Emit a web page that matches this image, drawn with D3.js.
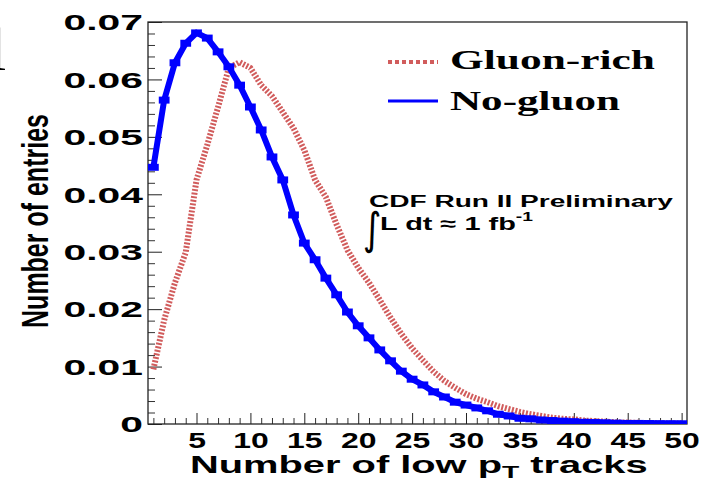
<!DOCTYPE html>
<html>
<head>
<meta charset="utf-8">
<script src="https://cdn.jsdelivr.net/npm/d3@7"></script>
<style>
  body { margin: 0; background: #fff; }
  svg { display: block; }
</style>
</head>
<body>
<script>
// bins of the "number of low pT tracks" histogram (bin centres)
const bins = [1,2,3,4,5,6,7,8,9,10,11,12,13,14,15,16,17,18,19,20,
  21,22,23,24,25,26,27,28,29,30,31,32,33,34,35,36,37,38,39,40,
  41,42,43,44,45,46,47,48,49,50];

// Gluon-rich (red dotted)
const gluonRich = [0.0095,0.0181,0.0246,0.0299,0.0425,0.0486,0.0552,0.0620,0.0630,0.0620,
  0.0590,0.0571,0.0543,0.0515,0.0477,0.0425,0.0395,0.0347,0.0303,0.0272,
  0.0246,0.0216,0.0185,0.0157,0.0132,0.0111,0.0091,0.0075,0.0063,0.0052,
  0.0044,0.0038,0.0031,0.0026,0.0021,0.0017,0.0014,0.0011,0.0009,0.0008,
  0.0006,0.0005,0.0004,0.0003,0.00025,0.0002,0.00015,0.0001,0.0001,0.0001];

// No-gluon (blue solid)
const noGluon = [0.0447,0.0564,0.0629,0.0663,0.0681,0.0672,0.0648,0.0622,0.0590,0.0552,
  0.0512,0.0465,0.0425,0.0364,0.0315,0.0286,0.0254,0.0225,0.0195,0.0171,
  0.0150,0.0129,0.0110,0.0092,0.0078,0.0068,0.0056,0.0047,0.0038,0.0033,
  0.0028,0.0023,0.0017,0.0014,0.0010,0.0009,0.0007,0.0006,0.0005,0.0004,
  0.0003,0.00025,0.0002,0.00015,0.0001,0.0001,0.00008,0.00006,0.00005,0.00004];

const xTicks = [5,10,15,20,25,30,35,40,45,50];
const yTicks = [0,0.01,0.02,0.03,0.04,0.05,0.06,0.07];
const seriesNames = ["Gluon-rich", "No-gluon"];

const W = 708, H = 482;
const m = {left: 148, right: 687, top: 22, bottom: 424};

const x = d3.scaleLinear().domain([0.5, 50.5]).range([m.left, m.right]);
const y = d3.scaleLinear().domain([0, 0.07]).range([m.bottom, m.top]);

const svg = d3.select("body").append("svg")
  .attr("width", W)
  .attr("height", H);

// scale a text element horizontally so it is `target` px wide
function fit(sel, tx, ty, target) {
  const w = sel.node().getComputedTextLength();
  sel.attr("transform", "translate(" + tx + "," + ty + ") scale(" + (target / w) + ",1)");
  return sel;
}

svg.append("clipPath").attr("id", "frame")
  .append("rect")
  .attr("x", m.left).attr("y", m.top)
  .attr("width", m.right - m.left).attr("height", m.bottom - m.top);

// minor ticks
const xMinor = d3.range(1, 51).filter(d => d % 5 != 0);
const yMinor = d3.range(0, 0.0701, 0.002).filter(d => Math.abs(d * 100 - Math.round(d * 100)) > 1e-6);

svg.append("g")
  .attr("transform", "translate(0," + m.bottom + ")")
  .call(d3.axisBottom(x).tickValues(xMinor).tickSizeInner(-6).tickSizeOuter(0).tickFormat(""))
  .call(g => g.select(".domain").remove())
  .call(g => g.selectAll("line").attr("stroke", "#333"));

svg.append("g")
  .attr("transform", "translate(" + m.left + ",0)")
  .call(d3.axisLeft(y).tickValues(yMinor).tickSizeInner(-7).tickSizeOuter(0).tickFormat(""))
  .call(g => g.select(".domain").remove())
  .call(g => g.selectAll("line").attr("stroke", "#333"));

// major ticks + labels
const xAxis = svg.append("g")
  .attr("transform", "translate(0," + m.bottom + ")")
  .call(d3.axisBottom(x).tickValues(xTicks).tickSizeInner(-11).tickSizeOuter(0).tickPadding(0))
  .call(g => g.select(".domain").remove())
  .call(g => g.selectAll("line").attr("stroke", "#222"));

xAxis.selectAll("text")
  .attr("y", 0).attr("dy", null)
  .attr("transform", "translate(0,24) scale(1.45,1)")
  .attr("fill", "#000")
  .style("font-family", "'Liberation Sans', Arial, sans-serif")
  .style("font-weight", "bold")
  .style("font-size", "22px");

const yAxis = svg.append("g")
  .attr("transform", "translate(" + m.left + ",0)")
  .call(d3.axisLeft(y).tickValues(yTicks).tickSizeInner(-14).tickSizeOuter(0)
    .tickFormat(d => d == 0 ? "0" : d.toFixed(2)))
  .call(g => g.select(".domain").remove())
  .call(g => g.selectAll("line").attr("stroke", "#222"));

yAxis.selectAll("text")
  .attr("x", 0).attr("dy", "0.36em")
  .attr("transform", "translate(-5,0) scale(1.9,1)")
  .attr("fill", "#000")
  .style("font-family", "'Liberation Sans', Arial, sans-serif")
  .style("font-weight", "bold")
  .style("font-size", "21.5px");

// frame
svg.append("rect")
  .attr("x", m.left).attr("y", m.top)
  .attr("width", m.right - m.left).attr("height", m.bottom - m.top)
  .attr("fill", "none")
  .attr("stroke", "#222")
  .attr("stroke-width", 1.3);

const plot = svg.append("g").attr("clip-path", "url(#frame)");

// gluon-rich, dotted
const line = d3.line()
  .x((d, i) => x(bins[i]))
  .y(d => y(d));

plot.append("path")
  .datum(gluonRich)
  .attr("d", line)
  .attr("fill", "none")
  .attr("stroke", "#d15c5c")
  .attr("stroke-width", 6)
  .attr("stroke-dasharray", "2,1.6");

// no-gluon: thick line + bin plateaus
plot.append("path")
  .datum(noGluon)
  .attr("d", line)
  .attr("fill", "none")
  .attr("stroke", "#0000ff")
  .attr("stroke-width", 6);

plot.selectAll("line.bin")
  .data(noGluon)
  .enter().append("line")
  .attr("class", "bin")
  .attr("x1", (d, i) => x(bins[i] - 0.5))
  .attr("x2", (d, i) => x(bins[i] + 0.5))
  .attr("y1", d => y(d))
  .attr("y2", d => y(d))
  .attr("stroke", "#0000ff")
  .attr("stroke-width", 7);

// legend
const leg = svg.append("g");
leg.append("line")
  .attr("x1", 388).attr("x2", 438).attr("y1", 62).attr("y2", 62)
  .attr("stroke", "#d15c5c").attr("stroke-width", 4)
  .attr("stroke-dasharray", "4,3");
leg.append("line")
  .attr("x1", 388).attr("x2", 438).attr("y1", 101).attr("y2", 101)
  .attr("stroke", "#0000ff").attr("stroke-width", 3);

const serif = "'Liberation Serif', 'Times New Roman', serif";
fit(leg.append("text").text(seriesNames[0])
  .style("font-family", serif).style("font-weight", "bold").style("font-size", "28px"),
  450, 69, 205);
fit(leg.append("text").text(seriesNames[1])
  .style("font-family", serif).style("font-weight", "bold").style("font-size", "28px"),
  450, 110, 170);

// CDF label
const sans = "'Liberation Sans', Arial, sans-serif";
fit(svg.append("text").text("CDF Run II Preliminary")
  .style("font-family", sans).style("font-weight", "bold").style("font-size", "17px"),
  369, 207, 304);

svg.append("text")
  .attr("transform", "translate(363,244) scale(0.85,1.05)")
  .style("font-family", "'DejaVu Sans', sans-serif")
  .style("font-size", "42px")
  .text("∫");

const lum = svg.append("text")
  .style("font-family", sans).style("font-weight", "bold").style("font-size", "18px");
lum.append("tspan").text("L dt ≈ 1 fb");
lum.append("tspan").attr("dy", -9).style("font-size", "12px").text("-1");
fit(lum, 380, 230, 153);

// axis titles
const xt = svg.append("text")
  .style("font-family", sans).style("font-weight", "bold").style("font-size", "24px");
xt.append("tspan").text("Number of low p");
xt.append("tspan").attr("dy", 5).style("font-size", "17px").text("T");
xt.append("tspan").attr("dy", -5).text(" tracks");
fit(xt, 190, 473, 458);

svg.append("text")
  .attr("transform", "translate(48,221) scale(1.5,1) rotate(-90)")
  .attr("text-anchor", "middle")
  .style("font-family", sans).style("font-weight", "bold").style("font-size", "25px")
  .text("Number of entries");

// clipped glyph at the page edge
svg.append("text")
  .attr("x", -11).attr("y", 70)
  .style("font-family", serif).style("font-size", "62px")
  .text("l");
</script>
</body>
</html>
